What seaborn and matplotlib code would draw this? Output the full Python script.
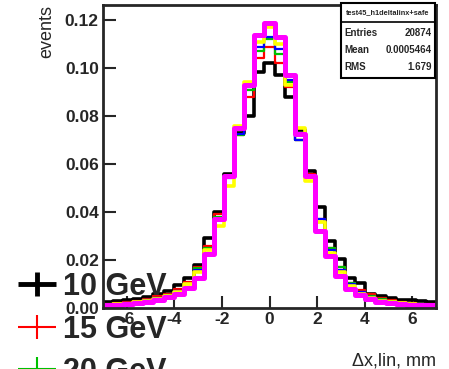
import numpy as np
import pandas as pd
import matplotlib
matplotlib.use("Agg")
import matplotlib.pyplot as plt
import seaborn as sns
from matplotlib.lines import Line2D
from matplotlib.legend_handler import HandlerTuple

# ---------------- data (fraction of events per bin) ----------------
x_min, x_max, n_bins = -7.0, 7.0, 33

frac_black = [0.0025, 0.0028, 0.0032, 0.0038, 0.0047, 0.0058, 0.0072, 0.0095, 0.0125, 0.018,
              0.029, 0.040, 0.056, 0.073, 0.080, 0.0985, 0.102, 0.097, 0.088, 0.074,
              0.057, 0.042, 0.028, 0.0205, 0.0125, 0.0105, 0.0060, 0.0048, 0.0042, 0.0035,
              0.0032, 0.0028, 0.0025]
frac_red = [0.0018, 0.0020, 0.0024, 0.0030, 0.0038, 0.0048, 0.0060, 0.0080, 0.011, 0.017,
            0.026, 0.039, 0.055, 0.072, 0.088, 0.104, 0.109, 0.102, 0.092, 0.070,
            0.056, 0.037, 0.025, 0.017, 0.0105, 0.0075, 0.0060, 0.0040, 0.0032, 0.0026,
            0.0022, 0.0018, 0.0016]
frac_green = [0.0015, 0.0017, 0.0020, 0.0026, 0.0033, 0.0042, 0.0054, 0.0072, 0.010, 0.0165,
              0.025, 0.038, 0.055, 0.072, 0.091, 0.107, 0.112, 0.106, 0.094, 0.070,
              0.055, 0.036, 0.025, 0.017, 0.0105, 0.0068, 0.0050, 0.0036, 0.0028, 0.0022,
              0.0018, 0.0015, 0.0014]
frac_blue = [0.0014, 0.0016, 0.0019, 0.0025, 0.0032, 0.0040, 0.0052, 0.0070, 0.0098, 0.016,
             0.024, 0.037, 0.054, 0.0725, 0.092, 0.109, 0.113, 0.108, 0.095, 0.070,
             0.055, 0.037, 0.024, 0.016, 0.0100, 0.0065, 0.0046, 0.0034, 0.0026, 0.0020,
             0.0016, 0.0014, 0.0013]
frac_yellow = [0.0014, 0.0015, 0.0018, 0.0023, 0.0030, 0.0038, 0.0050, 0.0068, 0.0098, 0.015,
               0.024, 0.034, 0.051, 0.076, 0.094, 0.111, 0.117, 0.110, 0.093, 0.075,
               0.053, 0.036, 0.023, 0.015, 0.0090, 0.0060, 0.0040, 0.0030, 0.0023, 0.0019,
               0.0015, 0.0013, 0.0013]
frac_magenta = [0.0012, 0.0013, 0.0016, 0.0020, 0.0026, 0.0034, 0.0044, 0.0058, 0.0085, 0.0125,
                0.0225, 0.037, 0.055, 0.075, 0.093, 0.114, 0.119, 0.113, 0.097, 0.0725,
                0.055, 0.032, 0.0215, 0.0135, 0.0078, 0.0055, 0.0036, 0.0027, 0.0020, 0.0017,
                0.0014, 0.0012, 0.0014]

legend_labels = ["10 GeV", "15 GeV", "20 GeV"]
x_ticks = [-6, -4, -2, 0, 2, 4, 6]
y_ticks = [0.00, 0.02, 0.04, 0.06, 0.08, 0.10, 0.12]

stats_title = "test45_h1deltalinx+safe"
stats_rows = [("Entries", "20874"), ("Mean", "0.0005464"), ("RMS", "1.679")]

# ---------------- style ----------------
sns.set_style("ticks")
plt.rcParams['font.family'] = ['Liberation Sans', 'DejaVu Sans']
plt.rcParams['font.weight'] = 'bold'

bin_w = (x_max - x_min) / n_bins
centers = x_min + bin_w * (np.arange(n_bins) + 0.5)

series = [
    (frac_black, "black", 2.6),
    (frac_red, "#ff0000", 1.6),
    (frac_green, "#00c000", 1.6),
    (frac_blue, "#0000ff", 1.6),
    (frac_yellow, "#ffff00", 2.6),
    (frac_magenta, "#ff00ff", 3.6),
]

fig = plt.figure(figsize=(4.49, 3.69), dpi=100)
ax = fig.add_axes([103 / 449, 1 - 308 / 369, 333 / 449, 303 / 369])

for vals, col, lw in series:
    df = pd.DataFrame({"x": centers, "w": vals})
    sns.histplot(data=df, x="x", weights="w", bins=n_bins, binrange=(x_min, x_max),
                 element="step", fill=False, color=col, linewidth=lw, ax=ax)

ax.set_xlim(x_min, x_max)
ax.set_ylim(0, 0.1263)
ax.set_xticks(x_ticks)
ax.set_xticklabels([str(t) for t in x_ticks], fontsize=12.5, fontweight='bold')
ax.set_yticks(y_ticks)
ax.set_yticklabels([f"{t:.2f}" for t in y_ticks], fontsize=12.5, fontweight='bold')
ax.tick_params(direction='in', length=9, width=1.5, top=False, right=False, pad=3)
for s in ax.spines.values():
    s.set_linewidth(2)
    s.set_visible(True)
ax.set_xlabel("")
ax.set_ylabel("")

fig.text(436 / 449, 1 - 361 / 369, "\u0394x,lin, mm", ha='right', va='center',
         fontsize=13, fontweight='normal')
fig.text(47 / 449, 1 - 5 / 369, "events", rotation=90, ha='center', va='top',
         fontsize=13, fontweight='normal')

# stats box
bx0, bx1 = 341 / 449, 435 / 449
by0, by1 = 1 - 78 / 369, 1 - 3 / 369
fig.patches.append(plt.Rectangle((bx0, by0), bx1 - bx0, by1 - by0, transform=fig.transFigure,
                                 facecolor='white', edgecolor='black', linewidth=1.5, zorder=5))
fig.lines.append(Line2D([bx0, bx1], [1 - 22 / 369] * 2, transform=fig.transFigure,
                        color='black', linewidth=1.2, zorder=6))
fig.text((bx0 + bx1) / 2, 1 - 13 / 369, stats_title, ha='center', va='center',
         fontsize=5.3, fontweight='bold', zorder=7)
for i, (lab, val) in enumerate(stats_rows):
    yy = 1 - (33 + 17 * i) / 369
    fig.text(344 / 449, yy, lab, ha='left', va='center', fontsize=7.0, fontweight='bold', zorder=7)
    fig.text(432 / 449, yy, val, ha='right', va='center', fontsize=7.0, fontweight='bold', zorder=7)

# legend: error-bar style crosses (wide horizontal, shorter vertical)
def cross(color, lw):
    h = Line2D([], [], color=color, marker='_', linestyle='none', markersize=27, markeredgewidth=lw)
    v = Line2D([], [], color=color, marker='|', linestyle='none', markersize=17, markeredgewidth=lw)
    return (h, v)

handles = [cross('black', 3.5), cross('#ff0000', 1.5), cross('#00c000', 1.5)]
fig.legend(handles, legend_labels, loc='upper left', bbox_to_anchor=(12 / 449, 1 - 272 / 369),
           frameon=False, prop={'size': 22, 'weight': 'bold'}, handlelength=1.63,
           handletextpad=0.05, labelspacing=0.41, borderpad=0, borderaxespad=0,
           handler_map={tuple: HandlerTuple(ndivide=1, pad=0)})

fig.savefig("out.png", dpi=100)
